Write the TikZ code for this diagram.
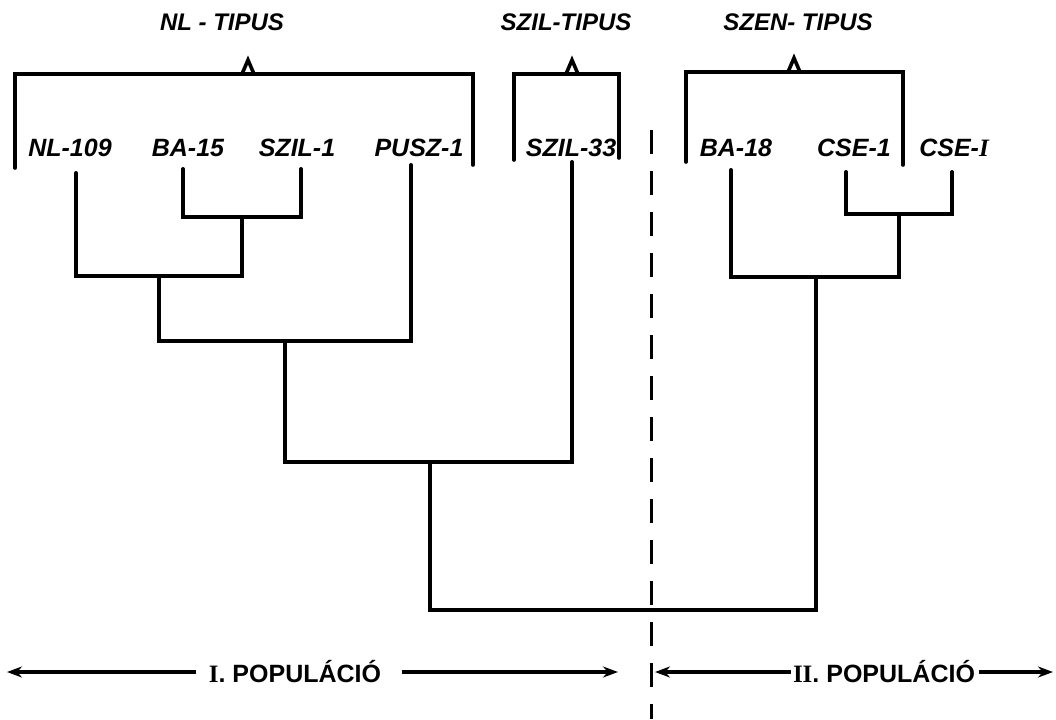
\documentclass[tikz,border=0pt]{standalone}
\usepackage{fontspec}
\setmainfont{Liberation Sans}
\newfontfamily\romanfont{Liberation Serif}
\usetikzlibrary{arrows.meta}

\tikzset{
  typelbl/.style={font=\bfseries\itshape\fontsize{12}{14}\selectfont,inner sep=0pt},
  leaflbl/.style={font=\bfseries\itshape\fontsize{12.5}{14}\selectfont,inner sep=0pt},
  poplbl/.style={font=\bfseries\fontsize{12.5}{14}\selectfont,inner sep=0pt},
  tree/.style={line width=2pt,line cap=round},
  brace/.style={line width=1.8pt,line cap=round},
  sepline/.style={line width=1.5pt,dash pattern=on 12pt off 8.5pt},
  poparrow/.style={line width=1.8pt,-{Stealth[length=7.5pt,width=5.5pt]}},
}

\begin{document}
\begin{tikzpicture}[x=0.5pt,y=-0.5pt]
\path[use as bounding box] (0,0) rectangle (1056,719);
% type labels
\node[typelbl] (nltip) at (222,22) {NL - TIPUS};
\node[typelbl] (sziltip) at (566,22) {SZIL-TIPUS};
\node[typelbl] (szentip) at (798,22) {SZEN- TIPUS};
% brackets
\draw[brace] (15,168) -- (15,74) -- (473,74) -- (473,165);
\draw[brace] (242,74) -- (248,60) -- (254,74);
\draw[brace] (514,160) -- (514,74) -- (619,74) -- (619,158);
\draw[brace] (566,74) -- (572,60) -- (578,74);
\draw[brace] (686,162) -- (686,72) -- (903,72) -- (903,165);
\draw[brace] (788,72) -- (794,58) -- (800,72);
% leaves
\node[leaflbl] (nl109) at (70,148) {NL-109};
\node[leaflbl] (ba15) at (188,148) {BA-15};
\node[leaflbl] (szil1) at (297,148) {SZIL-1};
\node[leaflbl] (pusz1) at (419,148) {PUSZ-1};
\node[leaflbl] (szil33) at (571,148) {SZIL-33};
\node[leaflbl] (ba18) at (736,148) {BA-18};
\node[leaflbl] (cse1) at (854,148) {CSE-1};
\node[leaflbl] (csei) at (954,148) {CSE-{\romanfont I}};
\coordinate (nl109-t) at (76,173);
\coordinate (ba15-t) at (183,169);
\coordinate (szil1-t) at (301,169);
\coordinate (pusz1-t) at (411,165);
\coordinate (szil33-t) at (572,162);
\coordinate (ba18-t) at (731,170);
\coordinate (cse1-t) at (846,172);
\coordinate (csei-t) at (952,172);
% joins
\coordinate (j1) at (242,217);
\coordinate (j2) at (159,276);
\coordinate (j3) at (285,341);
\coordinate (j4) at (430,462);
\coordinate (k1) at (899,214);
\coordinate (k2) at (816,277);
\coordinate (root) at (620,610);
\draw[tree] (ba15-t) |- (j1) -| (szil1-t);
\draw[tree] (nl109-t) |- (j2) -| (j1);
\draw[tree] (j2) |- (j3) -| (pusz1-t);
\draw[tree] (j3) |- (j4) -| (szil33-t);
\draw[tree] (cse1-t) |- (k1) -| (csei-t);
\draw[tree] (ba18-t) |- (k2) -| (k1);
\draw[tree] (j4) |- (root) -| (k2);
% population split
\coordinate (sep-top) at (651,130);
\coordinate (sep-bot) at (651,719);
\draw[sepline] (sep-top) -- (sep-bot);
\node[poplbl] (pop1) at (295,672) {{\romanfont I}. POPULÁCIÓ};
\node[poplbl] (pop2) at (884,672) {{\romanfont II}. POPULÁCIÓ};
\coordinate (pop1-l) at (7,672);
\coordinate (pop1-r) at (618,672);
\coordinate (pop2-l) at (655,672);
\coordinate (pop2-r) at (1053,672);
\draw[poparrow] ([xshift=-6pt]pop1.west) -- (pop1-l);
\draw[poparrow] ([xshift=10pt]pop1.east) -- (pop1-r);
\draw[poparrow] ([xshift=-1pt]pop2.west) -- (pop2-l);
\draw[poparrow] ([xshift=2pt]pop2.east) -- (pop2-r);
\end{tikzpicture}
\end{document}
